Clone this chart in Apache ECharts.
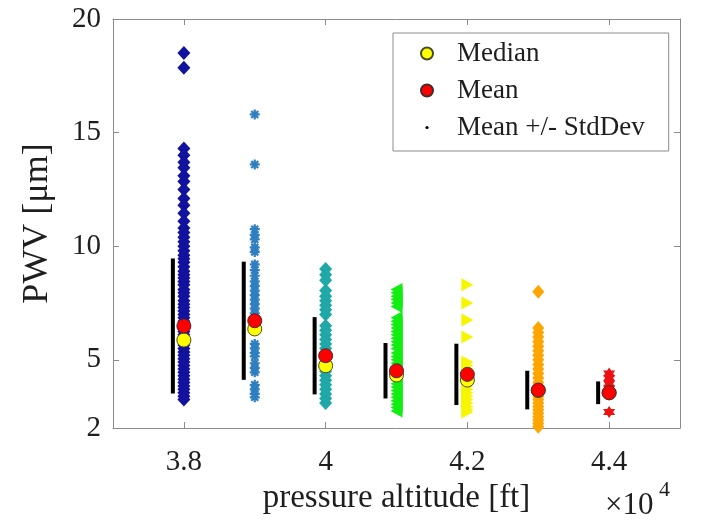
<!DOCTYPE html>
<html><head><meta charset="utf-8">
<script src="https://cdn.jsdelivr.net/npm/echarts@6/dist/echarts.min.js"></script>
<style>html,body{margin:0;padding:0;background:#fff}#c{width:704px;height:520px}</style>
</head><body><div id="c"></div>
<script>
// ---------------- data ----------------
const altitudes = [38000, 39000, 40000, 41000, 42000, 43000, 44000];
const pwv38k = [18.5, 17.85, 14.3, 14.0, 13.7, 13.45, 13.1, 12.85, 12.5, 12.1, 11.8, 11.45, 11.1, 10.8, 10.6, 10.4, 10.2, 10.0, 9.8, 9.6, 9.45, 9.3, 9.1, 8.9, 8.75, 8.6, 8.45, 8.3, 8.1, 7.95, 7.8, 7.6, 7.45, 7.3, 7.15, 7.0, 6.85, 6.7, 6.55, 6.4, 6.25, 6.1, 5.95, 5.8, 5.65, 5.5, 5.35, 5.2, 5.05, 4.9, 4.75, 4.6, 4.45, 4.3, 4.15, 4.0, 3.85, 3.7, 3.55, 3.4, 3.25];
const pwv39k = [15.8, 13.6, 10.75, 10.5, 10.3, 9.95, 9.75, 9.2, 8.95, 8.7, 8.45, 8.25, 8.05, 7.85, 7.65, 7.45, 7.25, 7.05, 6.9, 6.6, 6.35, 5.7, 5.5, 5.3, 5.15, 4.85, 4.65, 4.45, 3.9, 3.7, 3.5, 3.35];
const pwv40k = [9.0, 8.75, 8.5, 8.05, 7.8, 7.6, 7.4, 7.2, 7.0, 6.5, 6.3, 6.1, 5.9, 5.7, 5.5, 5.3, 5.1, 4.9, 4.7, 4.5, 4.3, 4.1, 3.9, 3.7, 3.5, 3.3, 3.1];
const pwv41k = [8.1, 7.95, 7.8, 7.65, 7.5, 7.35, 6.85, 6.7, 6.55, 6.4, 6.25, 6.1, 5.95, 5.8, 5.65, 5.5, 5.3, 5.15, 5.0, 4.85, 4.7, 4.55, 4.4, 4.25, 4.1, 3.95, 3.8, 3.65, 3.5, 3.35, 3.2, 3.05, 2.9, 2.75];
const pwv42k = [8.3, 7.5, 6.75, 6.0, 4.9, 4.75, 4.6, 4.45, 4.3, 4.15, 4.0, 3.85, 3.7, 3.55, 3.4, 3.25, 3.1, 2.95, 2.8, 2.7];
const pwv43k = [8.0, 6.4, 6.2, 6.0, 5.8, 5.6, 5.4, 5.2, 5.0, 4.8, 4.6, 4.4, 4.2, 4.0, 3.85, 3.7, 3.55, 3.4, 3.25, 3.1, 2.95, 2.8, 2.65, 2.5, 2.35, 2.2, 2.05];
const pwv44k = [4.4, 4.2, 3.95, 3.75, 3.55, 2.7];
const medians = [5.87, 6.36, 4.74, 4.33, 4.11, 3.65, 3.55];
const means = [6.49, 6.72, 5.18, 4.52, 4.36, 3.67, 3.55];
const stdDevs = [2.97, 2.6, 1.7, 1.22, 1.35, 0.85, 0.5];
const xTicks = [38000, 40000, 42000, 44000];
const yTicks = [2, 5, 10, 15, 20];

// ---------------- styles ----------------
const SERIF = 'Liberation Serif, Times New Roman, serif';
const AXIS_COLOR = '#8a8a8a';
const TEXT_COLOR = '#1e1e1e';

function starPath(n, r1, r2) {
  let s = '';
  for (let k = 0; k < 2 * n; k++) {
    const r = k % 2 ? r2 : r1;
    const a = Math.PI / 2 + k * Math.PI / n;
    s += (k ? 'L' : 'M') + (10 + r * Math.cos(a)).toFixed(2) + ' ' + (10 - r * Math.sin(a)).toFixed(2) + ' ';
  }
  return 'path://' + s + 'Z';
}
const asteriskPath = 'path://M0 5 L10 5 M5 0 L5 10 M1.5 1.5 L8.5 8.5 M8.5 1.5 L1.5 8.5';
function legendCircle(r) {
  return 'path://M0 0 M32 14 M' + (7 + r) + ' 7 A' + r + ' ' + r + ' 0 1 1 ' + (7 - r) + ' 7 A' + r + ' ' + r + ' 0 1 1 ' + (7 + r) + ' 7 Z';
}

const groupStyles = [
  { vals: pwv38k, symbol: 'diamond', size: [13, 14], color: '#12129e' },
  { vals: pwv39k, symbol: asteriskPath, size: 10, color: 'transparent', border: '#2f7fc0' },
  { vals: pwv40k, symbol: 'diamond', size: [13, 14], color: '#1fa8a8' },
  { vals: pwv41k, symbol: 'triangle', size: [13, 12], color: '#11ee11', rotate: 90 },
  { vals: pwv42k, symbol: 'triangle', size: [13, 12], color: '#f6f600', rotate: -90 },
  { vals: pwv43k, symbol: 'diamond', size: [12, 14], color: '#ffa500' },
  { vals: pwv44k, symbol: starPath(6, 10, 5.77), size: 12, color: '#ee1111' }
];

const series = groupStyles.map((g, i) => ({
  type: 'scatter',
  name: 'g' + altitudes[i],
  data: g.vals.map(v => [altitudes[i], v]),
  symbol: g.symbol,
  symbolSize: g.size,
  symbolRotate: g.rotate || 0,
  itemStyle: g.border ? { color: g.color, borderColor: g.border, borderWidth: 2.2, opacity: 1 } : { color: g.color, opacity: 1 },
  emphasis: { disabled: true },
  z: 2
}));

const STD_OFFSET_PX = -11;
series.push({
  type: 'custom',
  name: 'Mean +/- StdDev',
  data: altitudes.map((a, i) => [a, means[i] - stdDevs[i], means[i] + stdDevs[i]]),
  encode: { x: 0, y: [1, 2] },
  itemStyle: { color: '#000' },
  renderItem: (params, api) => {
    const p1 = api.coord([api.value(0), api.value(1)]);
    const p2 = api.coord([api.value(0), api.value(2)]);
    return { type: 'line', shape: { x1: p1[0] + STD_OFFSET_PX, y1: p1[1], x2: p2[0] + STD_OFFSET_PX, y2: p2[1] },
             style: { stroke: '#000', lineWidth: 4 } };
  },
  z: 3
});
series.push({
  type: 'scatter', name: 'Median',
  data: altitudes.map((a, i) => [a, medians[i]]),
  symbol: 'circle', symbolSize: 14,
  itemStyle: { color: '#ffff00', borderColor: '#4a4a2a', borderWidth: 1, opacity: 1 },
  z: 4
});
series.push({
  type: 'scatter', name: 'Mean',
  data: altitudes.map((a, i) => [a, means[i]]),
  symbol: 'circle', symbolSize: 14,
  itemStyle: { color: '#ff0000', borderColor: '#4a2a2a', borderWidth: 1, opacity: 1 },
  z: 5
});

const baseAxisCommon = {
  axisLine: { show: true, onZero: false, lineStyle: { color: AXIS_COLOR, width: 1 } },
  splitLine: { show: false }
};

const chart = echarts.init(document.getElementById('c'), null, { renderer: 'canvas' });
chart.setOption({
  animation: false,
  backgroundColor: '#fff',
  grid: { left: 113, right: 24, top: 19, bottom: 92, containLabel: false },
  xAxis: [
    Object.assign({
      type: 'value', min: 37000, max: 45000, position: 'bottom',
      axisTick: { show: true, inside: true, length: 6, customValues: xTicks, lineStyle: { color: AXIS_COLOR } },
      axisLabel: { customValues: xTicks, formatter: v => String(v / 10000), fontFamily: SERIF, fontSize: 29, color: TEXT_COLOR, margin: 20 },
      name: 'pressure altitude [ft]', nameLocation: 'middle', nameGap: 41,
      nameTextStyle: { fontFamily: SERIF, fontSize: 33, color: TEXT_COLOR }
    }, baseAxisCommon),
    Object.assign({
      type: 'value', min: 37000, max: 45000, position: 'top',
      axisTick: { show: true, inside: true, length: 6, customValues: xTicks, lineStyle: { color: AXIS_COLOR } },
      axisLabel: { show: false }
    }, baseAxisCommon)
  ],
  yAxis: [
    Object.assign({
      type: 'value', min: 2, max: 20, position: 'left',
      axisTick: { show: true, inside: true, length: 6, customValues: yTicks, lineStyle: { color: AXIS_COLOR } },
      axisLabel: { customValues: yTicks, fontFamily: SERIF, fontSize: 29, color: TEXT_COLOR, margin: 12 },
      name: 'PWV [μm]', nameLocation: 'middle', nameGap: 57,
      nameTextStyle: { fontFamily: SERIF, fontSize: 36, color: TEXT_COLOR }
    }, baseAxisCommon),
    Object.assign({
      type: 'value', min: 2, max: 20, position: 'right',
      axisTick: { show: true, inside: true, length: 6, customValues: yTicks, lineStyle: { color: AXIS_COLOR } },
      axisLabel: { show: false }
    }, baseAxisCommon)
  ],
  legend: {
    data: [
      { name: 'Median', icon: legendCircle(6) },
      { name: 'Mean', icon: legendCircle(6) },
      { name: 'Mean +/- StdDev', icon: legendCircle(1.6), itemStyle: { color: '#000', borderWidth: 0 } }
    ],
    orient: 'vertical', left: 393, top: 33,
    itemWidth: 32, itemHeight: 14, itemGap: 10,
    padding: [7, 24, 10, 26],
    borderColor: '#8c8c8c', borderWidth: 1,
    selectedMode: false,
    textStyle: { fontFamily: SERIF, fontSize: 27, color: TEXT_COLOR, lineHeight: 24 }
  },
  graphic: [
    { type: 'text', left: 605, top: 490, style: { text: '×10', font: '31px ' + SERIF, fill: TEXT_COLOR } },
    { type: 'text', left: 659, top: 479, style: { text: '4', font: '22px ' + SERIF, fill: TEXT_COLOR } }
  ],
  series: series
});
</script>
</body></html>
